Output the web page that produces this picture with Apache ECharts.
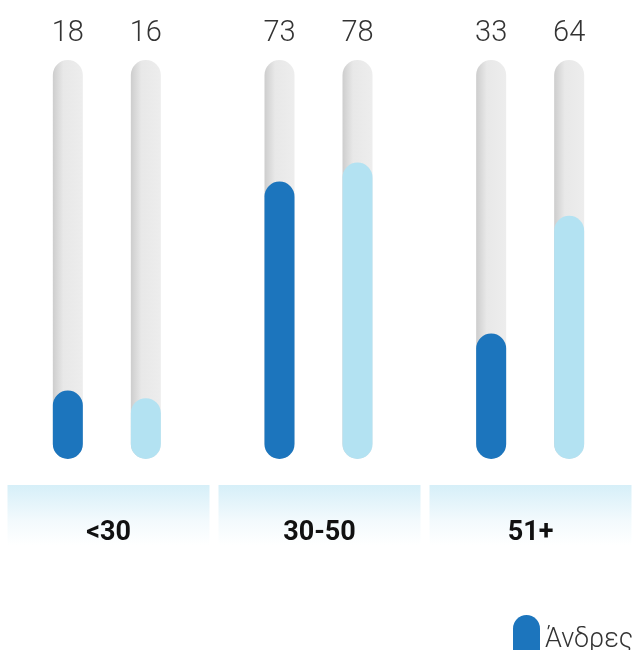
<!DOCTYPE html>
<html>
<head>
<meta charset="utf-8">
<script src="https://cdn.jsdelivr.net/npm/echarts@6/dist/echarts.min.js"></script>
<style>
html,body{margin:0;padding:0;background:#fff;}
#chart{width:636px;height:650px;}
</style>
</head>
<body>
<div id="chart"></div>
<script>
const categories = ['<30', '30-50', '51+'];
const seriesNames = ['Άνδρες', 'Γυναίκες'];
const men = [18, 73, 33];
const women = [16, 78, 64];
const Y_MAX = 105;

const chart = echarts.init(document.getElementById('chart'));

const trackColor = new echarts.graphic.LinearGradient(0, 0, 1, 0, [
  {offset: 0, color: '#cdcdcd'},
  {offset: 0.35, color: '#e8e8e8'},
  {offset: 1, color: '#ededed'}
]);
const bandColor = new echarts.graphic.LinearGradient(0, 0, 0, 1, [
  {offset: 0, color: '#d6eff8'},
  {offset: 0.6, color: '#f3fafd'},
  {offset: 1, color: '#ffffff'}
]);

function track(values) {
  return {
    type: 'bar', xAxisIndex: 0, yAxisIndex: 0,
    data: categories.map(() => Y_MAX),
    barWidth: 30, barGap: '160%', z: 1, silent: true,
    itemStyle: {color: trackColor, borderRadius: 15},
    label: {
      show: true, position: 'top', distance: 12,
      formatter: p => String(values[p.dataIndex]),
      fontFamily: 'Roboto', fontWeight: 300, fontSize: 29, color: '#333'
    }
  };
}
function dataBar(name, values, color) {
  return {
    type: 'bar', name: name, xAxisIndex: 1, yAxisIndex: 0,
    data: values, barWidth: 30, barGap: '160%', z: 3,
    itemStyle: {color: color, borderRadius: 15}
  };
}

chart.setOption({
  animation: false,
  legend: {
    data: seriesNames, left: 508, top: 610, orient: 'horizontal',
    itemWidth: 27, itemHeight: 50, itemGap: 30, selectedMode: false,
    icon: 'path://M0,13.5A13.5,13.5 0 0 1 27,13.5L27,36.5A13.5,13.5 0 0 1 0,36.5Z',
    textStyle: {fontFamily: 'Roboto', fontWeight: 300, fontSize: 27, color: '#333'}
  },
  grid: [
    {left: 1, right: -1, top: 60, height: 399},
    {left: 3, right: -3, top: 485, height: 60}
  ],
  xAxis: [
    {type: 'category', data: categories, gridIndex: 0, show: false},
    {type: 'category', data: categories, gridIndex: 0, show: false},
    {type: 'category', data: categories, gridIndex: 1, show: false}
  ],
  yAxis: [
    {type: 'value', gridIndex: 0, min: 0, max: Y_MAX, show: false},
    {type: 'value', gridIndex: 1, min: 0, max: 1, show: false}
  ],
  series: [
    track(men),
    track(women),
    dataBar(seriesNames[0], men, '#1c75bd'),
    dataBar(seriesNames[1], women, '#b3e2f2'),
    {
      type: 'bar', xAxisIndex: 2, yAxisIndex: 1,
      data: categories.map(() => 1), barWidth: 202, silent: true, z: 1,
      itemStyle: {color: bandColor},
      label: {
        show: true, position: ['50%', 48], align: 'center', verticalAlign: 'middle',
        formatter: p => categories[p.dataIndex],
        fontFamily: 'Roboto', fontWeight: 'bold', fontSize: 27, color: '#111'
      }
    }
  ]
});
</script>
</body>
</html>
